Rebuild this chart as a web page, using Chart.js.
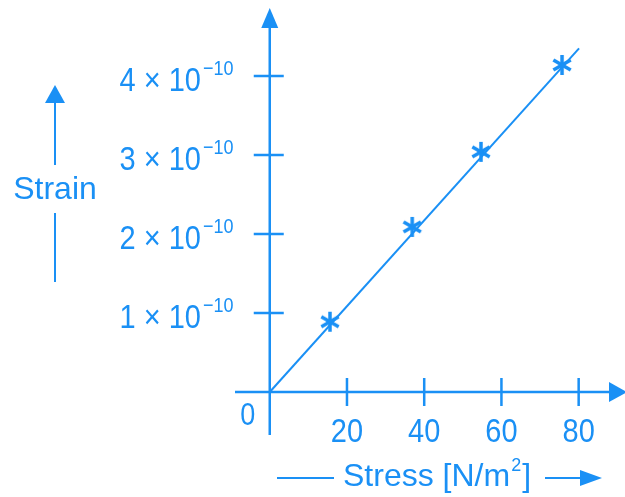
<!DOCTYPE html>
<html lang="en">

<head>
    <meta charset="UTF-8">
    <title>Stress vs Strain</title>
    <script src="https://cdn.jsdelivr.net/npm/chart.js"></script>
    <style>
        body { margin: 0; background: #fff; }
    </style>
</head>

<body>
    <canvas id="stressChart" width="625" height="497"></canvas>
    <script>
        // values
        const starStress = [15.6, 36.9, 54.7, 75.7];
        const starStrain = [0.89e-10, 2.09e-10, 3.04e-10, 4.14e-10];
        const lineStress = [0, 80.1];
        const lineStrain = [0, 4.35e-10];

        const xTicks = [20, 40, 60, 80];
        const xTickLabels = ['20', '40', '60', '80'];
        const yTicks = [1e-10, 2e-10, 3e-10, 4e-10];
        const yTickLabels = ['1 × 10', '2 × 10', '3 × 10', '4 × 10'];
        const yTickExp = '−10';

        const blue = '#1a90f5';
        const fontFam = '"Liberation Sans", Arial, sans-serif';

        // asterisk marker
        const star = document.createElement('canvas');
        star.width = 24;
        star.height = 24;
        const sc = star.getContext('2d');
        sc.strokeStyle = blue;
        sc.lineWidth = 3.5;
        [90, 30, -30].forEach(a => {
            const r = a * Math.PI / 180;
            sc.beginPath();
            sc.moveTo(12 - 10 * Math.cos(r), 12 - 10 * Math.sin(r));
            sc.lineTo(12 + 10 * Math.cos(r), 12 + 10 * Math.sin(r));
            sc.stroke();
        });

        // tall text like the drawing
        function tallText(ctx, txt, x, y, size, align) {
            ctx.save();
            ctx.font = size + 'px ' + fontFam;
            ctx.textAlign = align;
            ctx.textBaseline = 'alphabetic';
            ctx.translate(x, y);
            ctx.scale(1, 1.15);
            ctx.fillText(txt, 0, 0);
            ctx.restore();
        }

        function arrowHead(ctx, tx, ty, dir, len, wid) {
            // dir: 'up' or 'right'
            ctx.beginPath();
            if (dir === 'up') {
                ctx.moveTo(tx, ty);
                ctx.lineTo(tx - wid / 2, ty + len);
                ctx.lineTo(tx + wid / 2, ty + len);
            } else {
                ctx.moveTo(tx, ty);
                ctx.lineTo(tx - len, ty - wid / 2);
                ctx.lineTo(tx - len, ty + wid / 2);
            }
            ctx.closePath();
            ctx.fill();
        }

        const axesPlugin = {
            id: 'axesPlugin',
            beforeDatasetsDraw(chart) {
                const ctx = chart.ctx;
                const xs = chart.scales.x;
                const ys = chart.scales.y;
                const area = chart.chartArea;
                const x0 = xs.getPixelForValue(0);
                const y0 = ys.getPixelForValue(0);

                ctx.save();
                ctx.strokeStyle = blue;
                ctx.fillStyle = blue;
                ctx.lineWidth = 2.5;

                // axis lines
                ctx.beginPath();
                ctx.moveTo(area.left, y0);
                ctx.lineTo(area.right - 10, y0);
                ctx.moveTo(x0, area.bottom);
                ctx.lineTo(x0, area.top + 12);
                ctx.stroke();
                arrowHead(ctx, area.right + 2, y0, 'right', 18, 20);
                arrowHead(ctx, x0, area.top, 'up', 20, 17);

                // tick marks crossing the axes
                ctx.beginPath();
                xTicks.forEach(v => {
                    const px = xs.getPixelForValue(v);
                    ctx.moveTo(px, y0 - 14);
                    ctx.lineTo(px, y0 + 14);
                });
                yTicks.forEach(v => {
                    const py = ys.getPixelForValue(v);
                    ctx.moveTo(x0 - 16, py);
                    ctx.lineTo(x0 + 14, py);
                });
                ctx.stroke();

                // tick labels
                xTicks.forEach((v, i) => {
                    tallText(ctx, xTickLabels[i], xs.getPixelForValue(v), y0 + 50, 29, 'center');
                });
                tallText(ctx, '0', x0 - 22, y0 + 33, 27, 'center');
                yTicks.forEach((v, i) => {
                    const py = ys.getPixelForValue(v);
                    tallText(ctx, yTickLabels[i], 201, py + 15, 29, 'right');
                    tallText(ctx, yTickExp, 203, py - 1, 18, 'left');
                });

                // axis titles with arrows
                ctx.lineWidth = 2;
                ctx.font = '32px ' + fontFam;
                ctx.textAlign = 'center';
                ctx.textBaseline = 'alphabetic';
                ctx.fillText('Strain', 55, 199);
                ctx.beginPath();
                ctx.moveTo(55, 282);
                ctx.lineTo(55, 213);
                ctx.moveTo(55, 165);
                ctx.lineTo(55, 100);
                ctx.stroke();
                arrowHead(ctx, 55, 85, 'up', 18, 20);

                ctx.textAlign = 'left';
                ctx.fillText('Stress [N/m', 343, 486);
                const w = ctx.measureText('Stress [N/m').width;
                ctx.font = '18px ' + fontFam;
                ctx.fillText('2', 343 + w + 1, 471);
                ctx.font = '32px ' + fontFam;
                ctx.fillText(']', 343 + w + 12, 486);
                ctx.beginPath();
                ctx.moveTo(277, 478);
                ctx.lineTo(334, 478);
                ctx.moveTo(545, 478);
                ctx.lineTo(586, 478);
                ctx.stroke();
                arrowHead(ctx, 602, 478, 'right', 22, 16);

                ctx.restore();
            }
        };

        const ctx = document.getElementById('stressChart').getContext('2d');
        const stressChart = new Chart(ctx, {
            type: 'scatter',
            data: {
                datasets: [{
                    label: 'Fit',
                    data: lineStress.map((x, i) => ({ x: x, y: lineStrain[i] })),
                    showLine: true,
                    borderColor: blue,
                    borderWidth: 2,
                    pointRadius: 0
                }, {
                    label: 'Readings',
                    data: starStress.map((x, i) => ({ x: x, y: starStrain[i] })),
                    pointStyle: star,
                    pointRadius: 10
                }]
            },
            options: {
                responsive: false,
                animation: false,
                layout: {
                    autoPadding: false,
                    padding: { left: 235, right: 0, top: 8, bottom: 62 }
                },
                plugins: {
                    legend: { display: false },
                    tooltip: { enabled: false }
                },
                scales: {
                    x: { type: 'linear', min: -9, max: 92, display: false },
                    y: { type: 'linear', min: -0.544e-10, max: 4.861e-10, display: false }
                }
            },
            plugins: [axesPlugin]
        });
    </script>
</body>

</html>
